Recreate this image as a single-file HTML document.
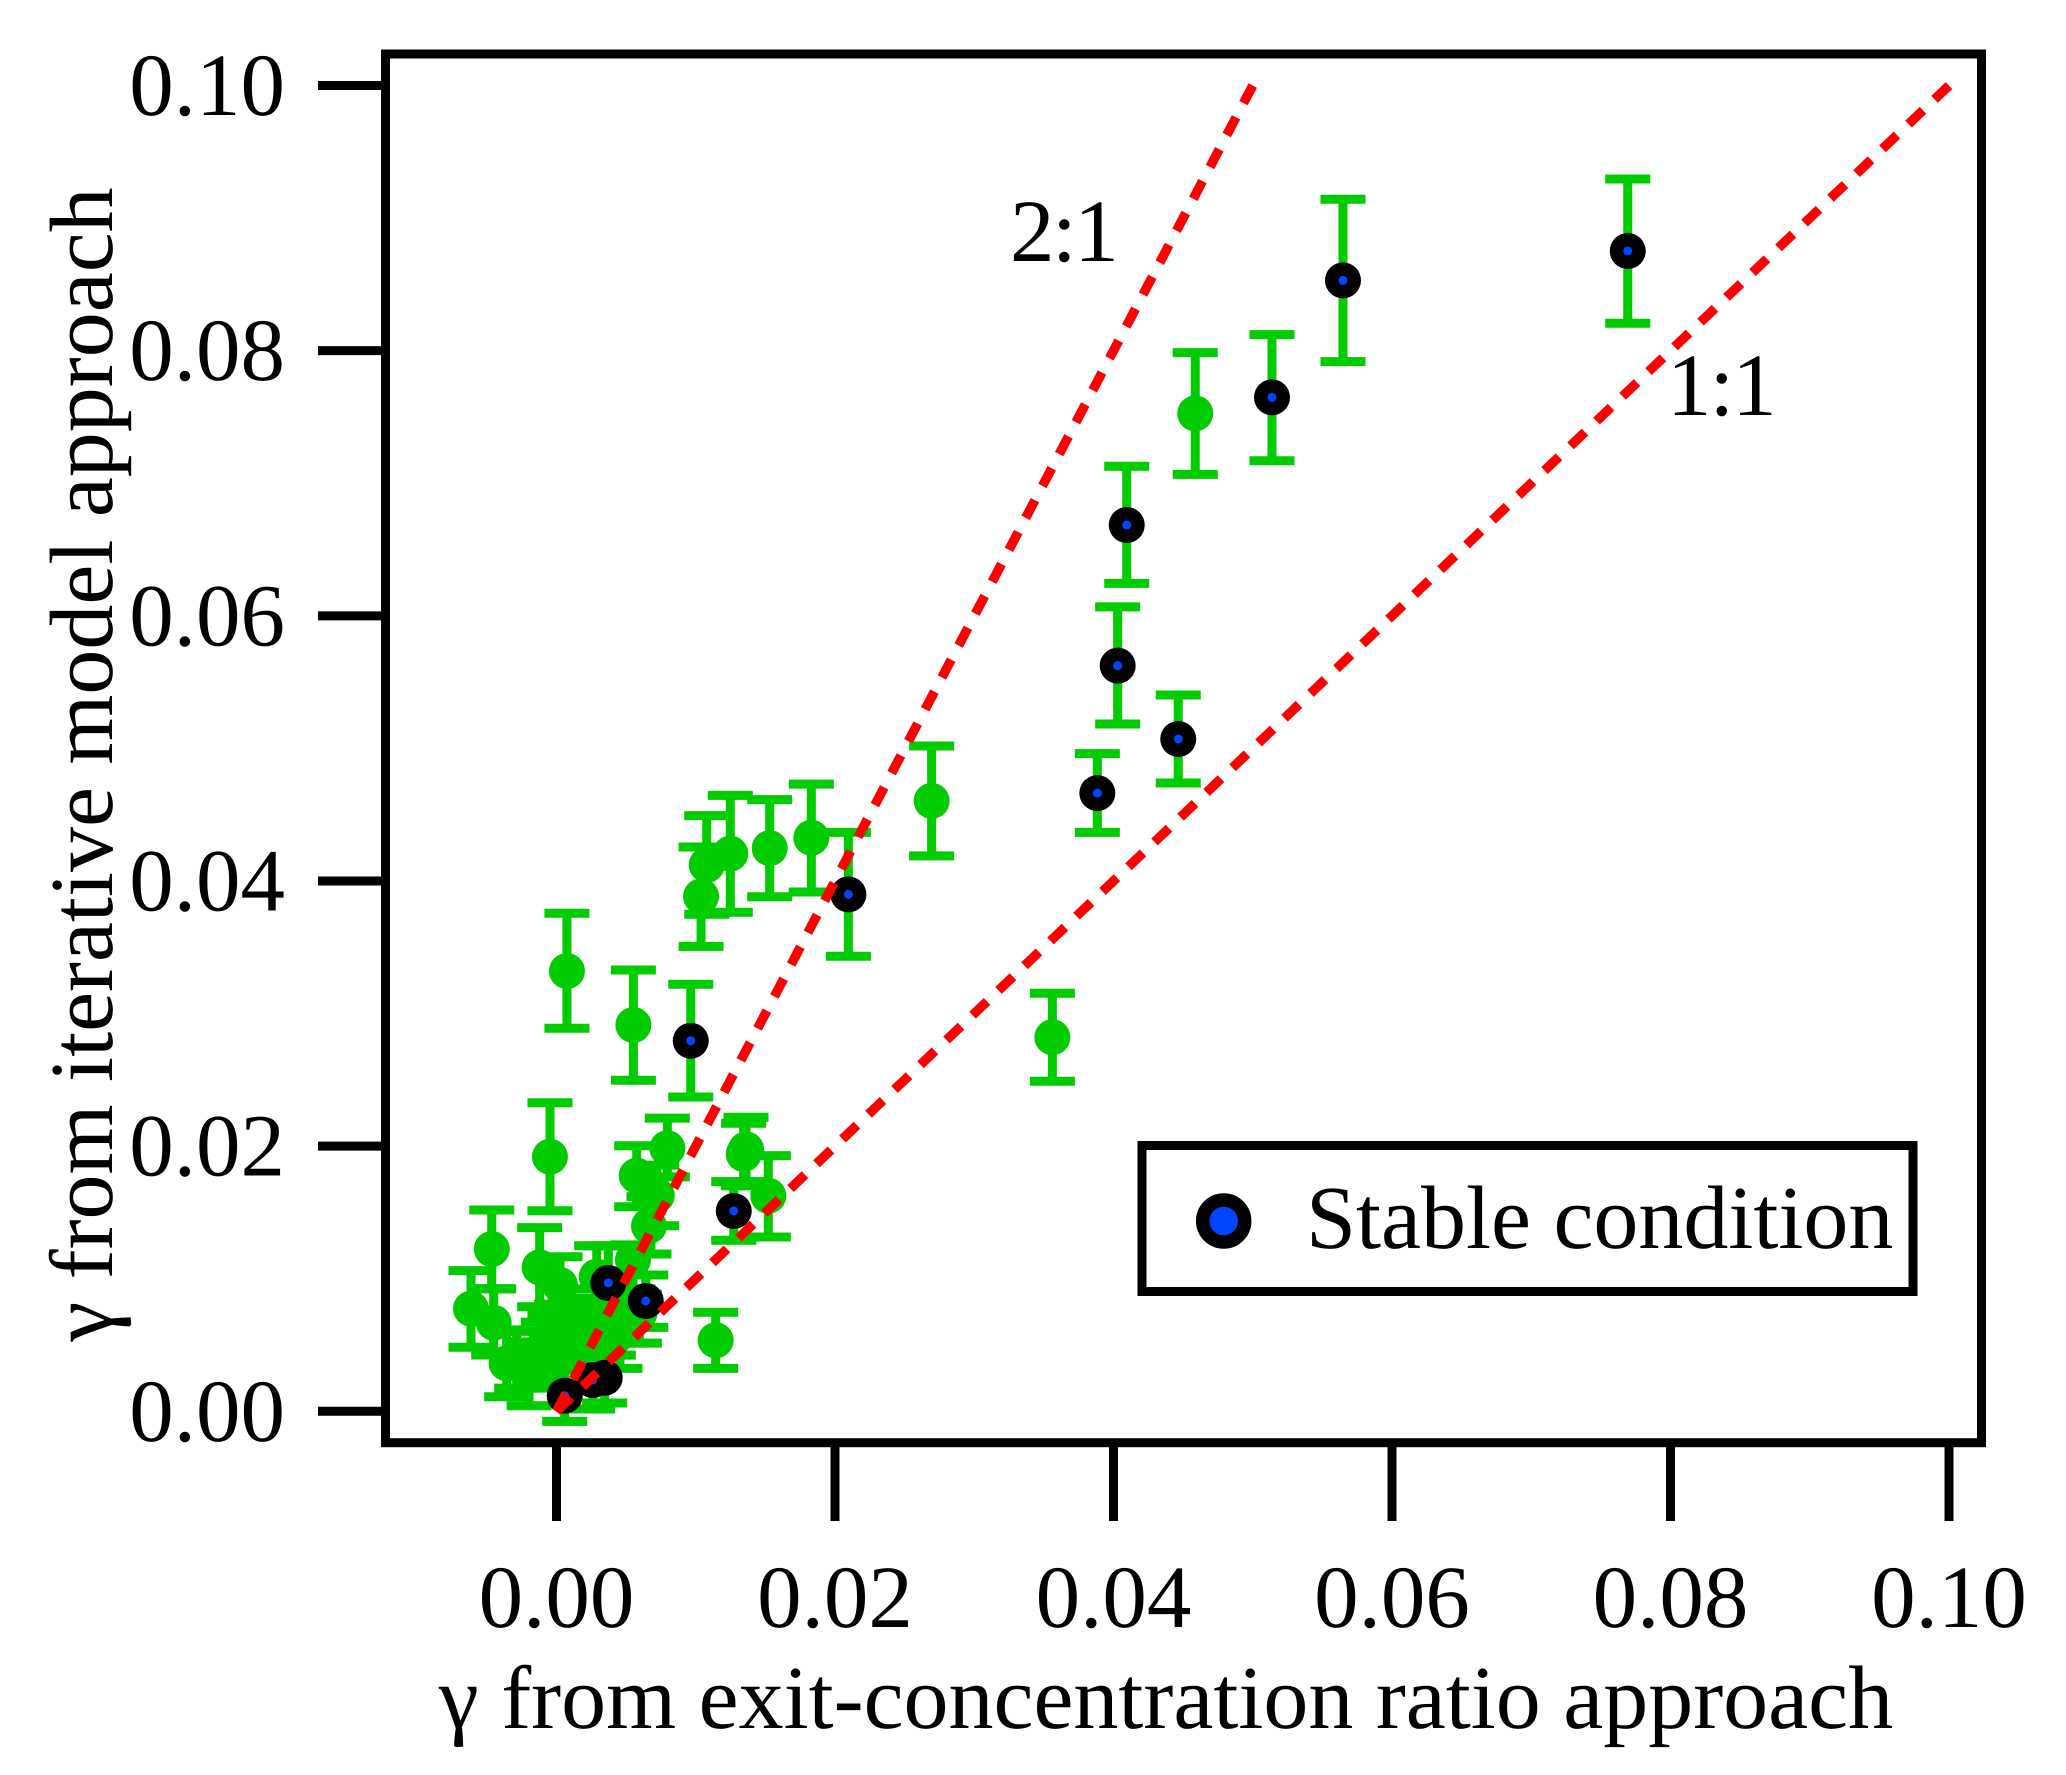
<!DOCTYPE html>
<html lang="en">
<head>
<meta charset="utf-8">
<title>Gamma comparison scatter chart</title>
<style>
html,body{margin:0;padding:0;background:#fff;}
svg{display:block;}
text{font-family:"Liberation Serif",serif;fill:#000;text-rendering:geometricPrecision;}
</style>
</head>
<body>
<svg id="chart" xmlns="http://www.w3.org/2000/svg" width="2066" height="1775" viewBox="0 0 2066 1775">
  <rect x="0" y="0" width="2066" height="1775" fill="#fff"/>
  <g id="x-ticks"></g>
  <g id="y-ticks"></g>
  <g id="green-series"></g>
  <g id="stable-series"></g>
  <g id="ref-lines"></g>
  <rect x="385.5" y="54" width="1596" height="1388.7" fill="none" stroke="#000" stroke-width="9"/>
  <text x="1010" y="261" font-size="89" letter-spacing="-2.5">2:1</text>
  <text x="1667" y="415" font-size="89" letter-spacing="-2">1:1</text>
  <text x="1166" y="1728" font-size="90" text-anchor="middle">γ from exit-concentration ratio approach</text>
  <text transform="translate(112 764.5) rotate(-90)" font-size="90" text-anchor="middle">γ from iterative model approach</text>
  <g>
    <rect x="1142" y="1145.5" width="771" height="146" fill="#fff" stroke="#000" stroke-width="9"/>
    <circle cx="1223.7" cy="1221" r="21" fill="#0044ff" stroke="#000" stroke-width="13.5"/>
    <text x="1306" y="1248" font-size="90">Stable condition</text>
  </g>
</svg>
<script>
const xTickValues = [0, 0.02, 0.04, 0.06, 0.08, 0.10];
const yTickValues = [0, 0.02, 0.04, 0.06, 0.08, 0.10];
const xTickLabels = ["0.00", "0.02", "0.04", "0.06", "0.08", "0.10"];
const yTickLabels = ["0.00", "0.02", "0.04", "0.06", "0.08", "0.10"];

const greenX = [0.04587,0.03561,0.02694,0.01830,0.01531,0.01248,0.01079,0.01038,0.00075,0.00552,-0.00047,0.01361,0.01344,0.01521,0.01143,-0.00465,-0.00121,-0.00614,-0.00451,0.00025,0.00796,0.00576,0.00720,0.00664,0.00549,0.00289,0.00001,0.00097,0.00145,0.00312,0.00408,0.00504,0.00456,0.00595,-0.00358,-0.00286,-0.00197,-0.00167,-0.00095,-0.00047,0.00001,0.00073,0.00192,0.00406];
const greenY = [0.07527,0.02821,0.04604,0.04326,0.04248,0.04206,0.04121,0.03884,0.03321,0.02914,0.01920,0.01976,0.01941,0.01626,0.00536,0.01224,0.01086,0.00774,0.00668,0.00953,0.01984,0.01778,0.01629,0.01398,0.01141,0.01016,0.00601,0.00639,0.00538,0.00589,0.00639,0.00713,0.00591,0.00739,0.00362,0.00387,0.00311,0.00387,0.00463,0.00538,0.00412,0.00713,0.00563,0.00813];
const greenLow = [0.07067,0.02489,0.04189,0.03917,0.03881,0.03764,0.03749,0.03507,0.02889,0.02497,0.01513,0.01732,0.01700,0.01315,0.00324,0.00925,0.00789,0.00483,0.00425,0.00741,0.01768,0.01543,0.01400,0.01186,0.00923,0.00787,0.00394,0.00424,0.00344,0.00404,0.00424,0.00514,0.00324,0.00514,0.00110,0.00175,0.00042,0.00175,0.00244,0.00334,0.00214,0.00504,0.00354,0.00624];
const greenHigh = [0.07985,0.03153,0.05018,0.04731,0.04614,0.04646,0.04493,0.04256,0.03757,0.03329,0.02327,0.02218,0.02173,0.01928,0.00747,0.01518,0.01385,0.01061,0.00923,0.01166,0.02211,0.02003,0.01857,0.01619,0.01255,0.01249,0.00808,0.00853,0.00733,0.00773,0.00853,0.00913,0.00773,0.00883,0.00614,0.00604,0.00524,0.00604,0.00673,0.00733,0.00604,0.00923,0.00773,0.00993];

const stableX = [0.07693,0.05648,0.05138,0.04095,0.04030,0.04465,0.03884,0.02096,0.00964,0.01273,0.00372,0.00641,0.00346,0.00260,0.00059];
const stableY = [0.08752,0.08530,0.07648,0.06685,0.05624,0.05071,0.04663,0.03899,0.02795,0.01511,0.00968,0.00832,0.00253,0.00236,0.00118];
const stableLow = [0.08207,0.07917,0.07170,0.06245,0.05184,0.04739,0.04367,0.03432,0.02371,0.01290,0.00688,0.00633,0.00063,0.00017,-0.00076];
const stableHigh = [0.09295,0.09142,0.08121,0.07128,0.06067,0.05403,0.04961,0.04367,0.03221,0.01732,0.01249,0.01028,0.00447,0.00425,0.00312];

const oneToOneX = [0, 0.10];
const oneToOneY = [0, 0.10];
const twoToOneX = [0, 0.05];
const twoToOneY = [0, 0.10];

const SVG_NS = "http://www.w3.org/2000/svg";
function sx(v) { return 556.5 + 13925 * v; }
function sy(v) { return 1411.3 - 13258 * v; }
function make(parent, tag, attrs) {
  const el = document.createElementNS(SVG_NS, tag);
  for (const k in attrs) el.setAttribute(k, attrs[k]);
  parent.appendChild(el);
  return el;
}

const xTicksGroup = document.getElementById("x-ticks");
xTickValues.forEach(function (v, i) {
  const tick = make(xTicksGroup, "line", {x1: sx(v), x2: sx(v), y1: 1447, y2: 1521, stroke: "#000", "stroke-width": 9});
  
  
  const label = make(xTicksGroup, "text", {x: sx(v), y: 1627, "font-size": 89, "text-anchor": "middle"});
  label.textContent = xTickLabels[i];
  
  
});

const yTicksGroup = document.getElementById("y-ticks");
yTickValues.forEach(function (v, i) {
  const tick = make(yTicksGroup, "line", {x1: 318, x2: 381, y1: sy(v), y2: sy(v), stroke: "#000", "stroke-width": 9});
  
  
  const label = make(yTicksGroup, "text", {x: 285, y: sy(v) + 29.5, "font-size": 89, "text-anchor": "end"});
  label.textContent = yTickLabels[i];
  
  
});

function drawBars(group, xs, lows, highs) {
  const green = "#00cc00";
  xs.forEach(function (v, i) {
    const px = sx(v), lo = sy(lows[i]), hi = sy(highs[i]);
    const stem = make(group, "line", {x1: px, x2: px, y1: lo, y2: hi, stroke: green, "stroke-width": 9});
    
    
    const capLow = make(group, "line", {x1: px - 22.5, x2: px + 22.5, y1: lo, y2: lo, stroke: green, "stroke-width": 9});
    
    
    const capHigh = make(group, "line", {x1: px - 22.5, x2: px + 22.5, y1: hi, y2: hi, stroke: green, "stroke-width": 9});
    
    
  });
}

const greenGroup = document.getElementById("green-series");
const stableGroup = document.getElementById("stable-series");
drawBars(greenGroup, greenX, greenLow, greenHigh);
drawBars(greenGroup, stableX, stableLow, stableHigh);

greenX.forEach(function (v, i) {
  const dot = make(greenGroup, "circle", {cx: sx(v), cy: sy(greenY[i]), r: 18, fill: "#00cc00"});
  
  
});

stableX.forEach(function (v, i) {
  const dot = make(stableGroup, "circle", {cx: sx(v), cy: sy(stableY[i]), r: 18, fill: "#000"});
  
  
  const core = make(stableGroup, "circle", {cx: sx(v), cy: sy(stableY[i]), r: 4.5, fill: "#0044ff"});
  
  
});

const refGroup = document.getElementById("ref-lines");
const line11 = make(refGroup, "line", {x1: sx(oneToOneX[0]), y1: sy(oneToOneY[0]), x2: sx(oneToOneX[1]), y2: sy(oneToOneY[1]), stroke: "#ff0000", "stroke-width": 9.5, "stroke-dasharray": "20 15.9"});


const line21 = make(refGroup, "line", {x1: sx(twoToOneX[0]), y1: sy(twoToOneY[0]), x2: sx(twoToOneX[1]), y2: sy(twoToOneY[1]), stroke: "#ff0000", "stroke-width": 9.5, "stroke-dasharray": "20 16.04"});


</script>
</body>
</html>
